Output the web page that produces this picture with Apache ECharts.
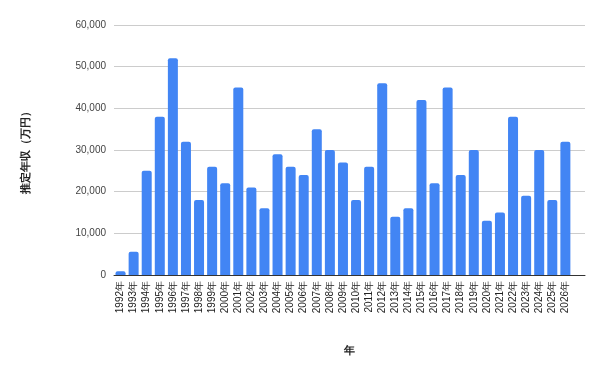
<!DOCTYPE html>
<html>
<head>
<meta charset="utf-8">
<script src="https://cdn.jsdelivr.net/npm/echarts@6/dist/echarts.min.js"></script>
<style>
  html, body { margin: 0; padding: 0; background: #fff; }
  #chart { width: 601px; height: 371px; }
</style>
</head>
<body>
<div id="chart"></div>
<script>
// years on the x axis
const years = [
  '1992年', '1993年', '1994年', '1995年', '1996年', '1997年', '1998年', '1999年',
  '2000年', '2001年', '2002年', '2003年', '2004年', '2005年', '2006年', '2007年',
  '2008年', '2009年', '2010年', '2011年', '2012年', '2013年', '2014年', '2015年',
  '2016年', '2017年', '2018年', '2019年', '2020年', '2021年', '2022年', '2023年',
  '2024年', '2025年', '2026年'
]

// estimated annual income (万円)
const income = [
  900, 5600, 25000, 38000, 52000, 32000, 18000, 26000,
  22000, 45000, 21000, 16000, 29000, 26000, 24000, 35000,
  30000, 27000, 18000, 26000, 46000, 14000, 16000, 42000,
  22000, 45000, 24000, 30000, 13000, 15000, 38000, 19000,
  30000, 18000, 32000
]

const yMax = 60000
const yStep = 10000

const chart = echarts.init(document.getElementById('chart'))

chart.setOption({
  animation: false,
  grid: { left: 114, right: 16, top: 25, bottom: 96 },
  xAxis: {
    type: 'category',
    data: years,
    max: years.length, // one empty slot after the last year
    name: '年',
    nameLocation: 'middle',
    nameGap: 70,
    nameTextStyle: { fontSize: 11, fontWeight: 'bold', color: '#222' },
    axisLine: { lineStyle: { color: '#333', width: 1 } },
    axisTick: { show: false },
    axisLabel: {
      interval: 0,
      rotate: 90,
      fontSize: 10,
      color: '#222',
      margin: 6,
      formatter: (v) => v || ''
    }
  },
  yAxis: {
    type: 'value',
    min: 0,
    max: yMax,
    interval: yStep,
    name: '推定年収（万円）',
    nameLocation: 'middle',
    nameGap: 83,
    nameTextStyle: { fontSize: 11, fontWeight: 'bold', color: '#222' },
    axisLine: { show: false },
    axisTick: { show: false },
    axisLabel: {
      fontSize: 10,
      color: '#444',
      margin: 8,
      formatter: (v) => v.toLocaleString('en-US')
    },
    splitLine: { lineStyle: { color: '#ccc', width: 1 } }
  },
  series: [{
    type: 'bar',
    data: income,
    barWidth: 10,
    itemStyle: { color: '#4285F4', borderRadius: [2, 2, 0, 0] }
  }]
})
</script>
</body>
</html>
